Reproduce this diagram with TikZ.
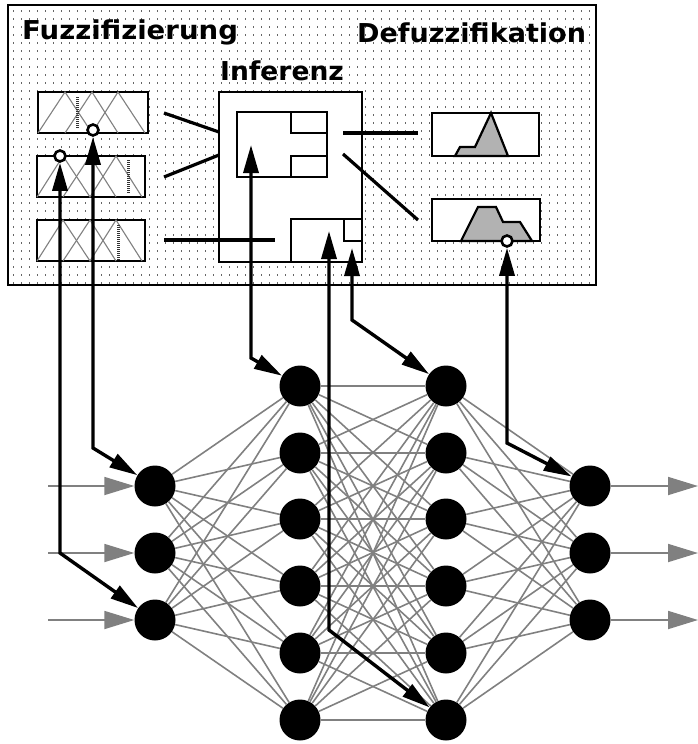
\documentclass[tikz,border=0pt]{standalone}
\usepackage{graphicx}
\usepackage{fontspec}
\newfontfamily\headfont{DejaVu Sans}
\usepackage{tikz}
\usetikzlibrary{arrows.meta, positioning, calc}

\begin{document}
\begin{tikzpicture}[x=1pt, y=-1pt,
    neuron/.style={circle, fill=black, inner sep=0pt, minimum size=41pt},
    weight/.style={gray, line width=1.6pt},
    signal/.style={-{Triangle[length=30pt, width=18pt]}, gray, line width=1.8pt},
    link/.style={{Triangle[length=28pt, width=15pt]}-{Triangle[length=28pt, width=15pt]},
        line width=3.4pt, line join=miter},
    frame/.style={draw, line width=2.6pt, fill=white, inner sep=0pt},
    pin/.style={circle, draw, fill=white, line width=2.6pt, inner sep=0pt, minimum size=11pt},
    title/.style={font=\headfont\bfseries\fontsize{26}{26}\selectfont, inner sep=0pt, anchor=base west},
    member/.style={gray, line width=1.1pt},
    crisp/.style={line width=3pt, dash pattern=on 1pt off 1pt, black!80},
    wire/.style={line width=3.2pt},
    dotrow/.style={line width=1.2pt, dash pattern=on 1.2pt off 6.8pt, black!60},
    output/.style={draw, line width=2.2pt, fill=gray!60}
]
\useasboundingbox (0,0) rectangle (698,744);

% fuzzy controller panel
\foreach \y in {11,19,...,283} \draw[dotrow] (13,\y) -- (594,\y);
\draw[line width=2.6pt] (8,5) rectangle (596,285);

\node[title] (fuz) at (22,39) {\scalebox{1.06}[1]{Fuzzifizierung}};
\node[title] (inf) at (220,80) {\scalebox{1.02}[1]{Inferenz}};
\node[title] (defuz) at (357,42) {\scalebox{1.04}[1]{Defuzzifikation}};

% membership functions
\node[frame, minimum width=110pt, minimum height=41pt] (m1) at (93,112.5) {};
\node[frame, minimum width=108pt, minimum height=41pt] (m2) at (91,176.5) {};
\node[frame, minimum width=108pt, minimum height=41pt] (m3) at (91,240.5) {};
\draw[member] (38,133) -- (65,92) -- (92,133) -- (118,92) -- (145,133);
\draw[member] (65,133) -- (92,92) -- (118,133);
\draw[member] (37,197) -- (63,156) -- (90,197) -- (116,156) -- (142,197);
\draw[member] (63,197) -- (90,156) -- (116,197);
\draw[member] (37,261) -- (63,220) -- (90,261) -- (116,220) -- (142,261);
\draw[member] (63,261) -- (90,220) -- (116,261);
\draw[crisp] (77,97) -- (77,128);
\draw[crisp] (128,160) -- (128,193);
\draw[crisp] (118,225) -- (118,260);

% rule base
\node[frame, minimum width=143pt, minimum height=170pt] (rb) at (290.5,177) {};
\draw[line width=2.2pt, fill=white] (237,112) rectangle (327,177);
\draw[line width=2.2pt] (291,112) -- (291,133) -- (327,133);
\draw[line width=2.2pt] (291,177) -- (291,156) -- (327,156);
\draw[line width=2.2pt] (291,262) -- (291,219) -- (362,219);
\draw[line width=2.2pt] (344,219) -- (344,241) -- (362,241);
\coordinate (r1) at (251,145);
\coordinate (r2) at (329,231);
\coordinate (r3) at (352,248);

% output sets
\node[frame, minimum width=107pt, minimum height=43pt] (d1) at (485.5,134.5) {};
\node[frame, minimum width=108pt, minimum height=42pt] (d2) at (486,220) {};
\draw[output] (455,156) -- (460,147) -- (475,147) -- (491,113) -- (508,156) -- cycle;
\draw[output] (461,241) -- (478,207) -- (496,207) -- (503,222) -- (520,222) -- (532,241) -- cycle;

% wires
\coordinate (a1) at (164,113);
\coordinate (a2) at (164,177);
\coordinate (a3) at (164,240);
\coordinate (e1) at (219,132);
\coordinate (e2) at (219,155);
\coordinate (e3) at (275,240);
\draw[wire] (a1) -- (e1);
\draw[wire] (a2) -- (e2);
\draw[wire] (a3) -- (e3);
\coordinate (o1) at (343,133);
\coordinate (o2) at (343,154);
\coordinate (f1) at (418,133);
\coordinate (f2) at (418,220);
\draw[wire] (o1) -- (f1);
\draw[wire] (o2) -- (f2);

% neural network
\node[neuron] (n11) at (155,486) {};
\node[neuron] (n12) at (155,553) {};
\node[neuron] (n13) at (155,620) {};
\node[neuron] (n21) at (300,386) {};
\node[neuron] (n22) at (300,453) {};
\node[neuron] (n23) at (300,519) {};
\node[neuron] (n24) at (300,586) {};
\node[neuron] (n25) at (300,653) {};
\node[neuron] (n26) at (300,720) {};
\node[neuron] (n31) at (446,386) {};
\node[neuron] (n32) at (446,453) {};
\node[neuron] (n33) at (446,519) {};
\node[neuron] (n34) at (446,586) {};
\node[neuron] (n35) at (446,653) {};
\node[neuron] (n36) at (446,720) {};
\node[neuron] (n41) at (590,486) {};
\node[neuron] (n42) at (590,553) {};
\node[neuron] (n43) at (590,620) {};

\foreach \i in {1,2,3} \foreach \j in {1,...,6} \draw[weight] (n1\i) -- (n2\j);
\foreach \i in {1,...,6} \foreach \j in {1,...,6} \draw[weight] (n2\i) -- (n3\j);
\foreach \i in {1,...,6} \foreach \j in {1,2,3} \draw[weight] (n3\i) -- (n4\j);

\coordinate (x1) at (48,486);
\coordinate (x2) at (48,553);
\coordinate (x3) at (48,620);
\coordinate (y1) at (698,486);
\coordinate (y2) at (698,553);
\coordinate (y3) at (698,620);
\draw[signal] (x1) -- (n11);
\draw[signal] (x2) -- (n12);
\draw[signal] (x3) -- (n13);
\draw[signal] (n41) -- (y1);
\draw[signal] (n42) -- (y2);
\draw[signal] (n43) -- (y3);

% coupling fuzzy system and network
\node[pin] (c1) at (93,130) {};
\node[pin] (c2) at (60,156) {};
\node[pin] (c3) at (507,241) {};
\coordinate (b1) at (93,448);
\coordinate (b2) at (60,553);
\coordinate (b3) at (251,358);
\coordinate (b4) at (329,630);
\coordinate (b5) at (352,320);
\coordinate (b6) at (507,443);
\draw[link] (c1) -- (b1) -- (n11);
\draw[link] (c2) -- (b2) -- (n13);
\draw[link] (r1) -- (b3) -- (n21);
\draw[link] (r2) -- (b4) -- (n36);
\draw[link] (r3) -- (b5) -- (n31);
\draw[link] (c3) -- (b6) -- (n41);
\end{tikzpicture}
\end{document}
